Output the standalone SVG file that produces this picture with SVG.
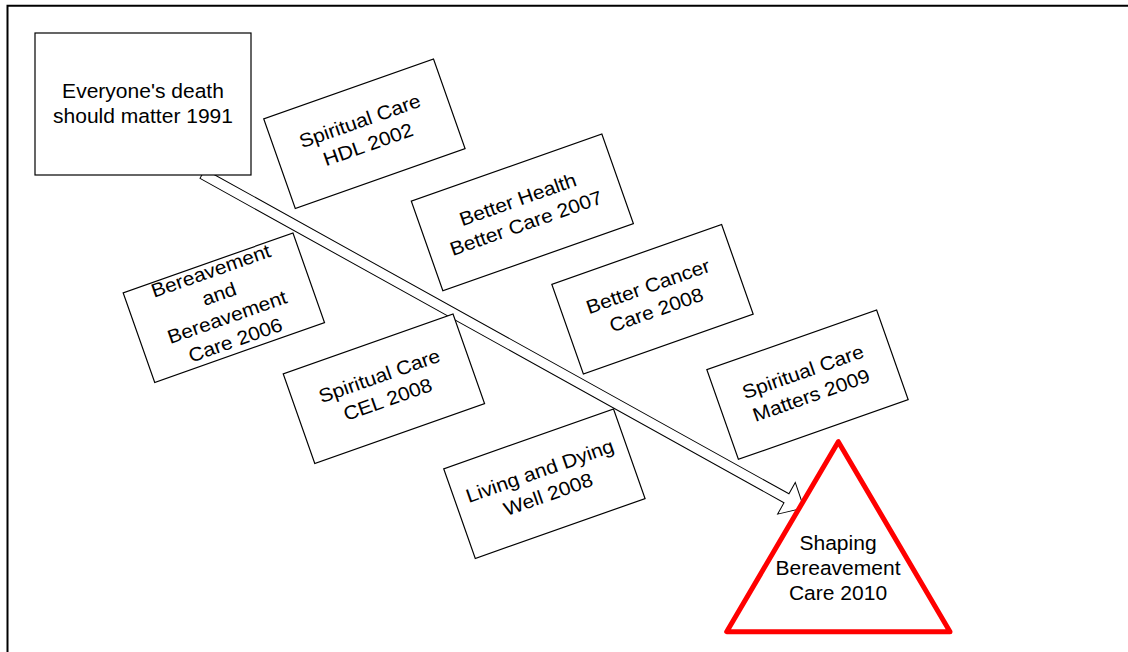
<svg xmlns="http://www.w3.org/2000/svg" width="1128" height="652" viewBox="0 0 1128 652">
<style>
.frame{fill:none;stroke:#000;stroke-width:2}
.box{fill:#fff;stroke:#000;stroke-width:1.2}
.arrow{fill:#fff;stroke:#000;stroke-width:1}
.tri{fill:#fff;stroke:#f00;stroke-width:5;stroke-linejoin:round}
.lbl{font-family:"Liberation Sans",Arial,Helvetica,sans-serif;font-size:19.3px;text-anchor:middle;fill:#000}
</style>
<rect width="1128" height="652" fill="#fff"/>
<path class="frame" d="M7.5,652 V5.8 H1128"/>
<g id="connectors">
<polygon class="arrow" transform="translate(202.5 173.9) rotate(29.05)" points="0,-5.1 668,-5.1 668,-18.15 688,0 668,18.15 668,5.1 0,5.1"/>
</g>
<g id="n-everyone">
<rect class="box" x="35" y="33" width="216" height="142"/>
<text class="lbl" transform="translate(143 98) scale(1.09 1)"><tspan x="0" y="0">Everyone's death</tspan><tspan x="0" y="25">should matter 1991</tspan></text>
</g>
<g id="n-hdl" transform="translate(364.4 133.8) rotate(-19.4)">
<rect class="box" x="-90" y="-47.5" width="180" height="95"/>
<text class="lbl" transform="scale(1.09 1)"><tspan x="0" y="-7">Spiritual Care</tspan><tspan x="0" y="18">HDL 2002</tspan></text>
</g>
<g id="n-bhbc" transform="translate(522.35 212.4) rotate(-19.4)">
<rect class="box" x="-101" y="-47.5" width="202" height="95"/>
<text class="lbl" transform="scale(1.09 1)"><tspan x="0" y="-7">Better Health</tspan><tspan x="0" y="18">Better Care 2007</tspan></text>
</g>
<g id="n-bereav" transform="translate(223.85 307.7) rotate(-19.4)">
<rect class="box" x="-90" y="-47.5" width="180" height="95"/>
<text class="lbl" transform="scale(1.09 1)"><tspan x="0" y="-32.5">Bereavement</tspan><tspan x="0" y="-8">and</tspan><tspan x="0" y="16.5">Bereavement</tspan><tspan x="0" y="41">Care 2006</tspan></text>
</g>
<g id="n-cel" transform="translate(383.9 388.75) rotate(-19.4)">
<rect class="box" x="-90" y="-47.5" width="180" height="95"/>
<text class="lbl" transform="scale(1.09 1)"><tspan x="0" y="-7">Spiritual Care</tspan><tspan x="0" y="18">CEL 2008</tspan></text>
</g>
<g id="n-bcc" transform="translate(652.5 299.2) rotate(-19.4)">
<rect class="box" x="-90" y="-47.5" width="180" height="95"/>
<text class="lbl" transform="scale(1.09 1)"><tspan x="0" y="-7">Better Cancer</tspan><tspan x="0" y="18">Care 2008</tspan></text>
</g>
<g id="n-scm" transform="translate(807.5 384.65) rotate(-19.4)">
<rect class="box" x="-90" y="-47.5" width="180" height="95"/>
<text class="lbl" transform="scale(1.09 1)"><tspan x="0" y="-7">Spiritual Care</tspan><tspan x="0" y="18">Matters 2009</tspan></text>
</g>
<g id="n-ldw" transform="translate(544.4 483.7) rotate(-19.4)">
<rect class="box" x="-90" y="-47.5" width="180" height="95"/>
<text class="lbl" transform="scale(1.09 1)"><tspan x="0" y="-7">Living and Dying</tspan><tspan x="0" y="18">Well 2008</tspan></text>
</g>
<g id="n-shaping">
<polygon class="tri" points="838.3,441.7 726.7,631.7 950,631.7"/>
<text class="lbl" transform="translate(838 550) scale(1.09 1)"><tspan x="0" y="0">Shaping</tspan><tspan x="0" y="25">Bereavement</tspan><tspan x="0" y="50">Care 2010</tspan></text>
</g>
</svg>
